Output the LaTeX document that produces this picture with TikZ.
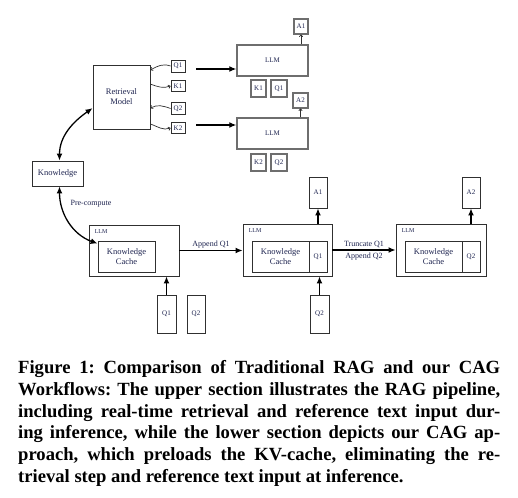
\documentclass[tikz,border=0pt]{standalone}
\usepackage{fontspec}
\setmainfont{Liberation Serif}
\usetikzlibrary{arrows.meta,calc}
\definecolor{txt}{HTML}{1E2450}
\definecolor{ln}{HTML}{303030}
\definecolor{gl}{HTML}{6E6E6E}
\frenchspacing
\begin{document}
\begin{tikzpicture}[x=1pt,y=1pt,
 box/.style={draw=ln, line width=0.9pt, inner sep=0pt, text=txt, align=center},
 gbox/.style={draw=gl, line width=1.4pt, inner sep=0pt, text=txt, align=center},
 lab/.style={font=\fontsize{8.5}{10}\selectfont},
 sm/.style={font=\fontsize{7}{8}\selectfont},
 cornerlab/.style={font=\fontsize{6}{7}\selectfont, text=txt, inner sep=0pt},
 elab/.style={font=\fontsize{8}{9}\selectfont, text=txt, inner sep=2pt},
 bigarr/.style={-{Latex[length=7pt,width=6pt]}, line width=1.3pt, draw=black},
 dblarr/.style={{Latex[length=7pt,width=6pt]}-{Latex[length=7pt,width=6pt]}, line width=1.3pt, draw=black},
 thinarr/.style={-{To[length=2.5pt,width=4pt]}, line width=0.7pt, draw=ln},
 captext/.style={anchor=base west, inner sep=0pt, font=\fontsize{18.6}{21}\selectfont\bfseries},
]
\useasboundingbox (0,0) rectangle (518,-497);
\fill[white] (0,0) rectangle (518,-497);

% ---------- upper (RAG) ----------
\node[box, lab, minimum width=57pt, minimum height=64pt] (RM) at (121.5,-97) {Retrieval\\Model};
\node[box, sm, minimum width=14pt, minimum height=12pt] (Q1a) at (178,-66) {Q1};
\node[box, sm, minimum width=14pt, minimum height=11pt] (K1a) at (178,-86) {K1};
\node[box, sm, minimum width=14pt, minimum height=12pt] (Q2a) at (178,-108.5) {Q2};
\node[box, sm, minimum width=14pt, minimum height=11pt] (K2a) at (178,-128) {K2};

\node[gbox, sm, minimum width=71pt, minimum height=31pt] (LLM1) at (272.5,-60.5) {LLM};
\node[gbox, sm, minimum width=14pt, minimum height=15pt, line width=1.1pt] (A1a) at (301,-26.5) {A1};
\node[gbox, sm, minimum width=15pt, minimum height=17pt, line width=1.1pt] (K1b) at (258.5,-88.5) {K1};
\node[gbox, sm, minimum width=16pt, minimum height=17pt, line width=1.1pt] (Q1b) at (279,-88.5) {Q1};

\node[gbox, sm, minimum width=71pt, minimum height=31pt] (LLM2) at (272.5,-133.5) {LLM};
\node[gbox, sm, minimum width=15pt, minimum height=15pt, line width=1.1pt] (A2a) at (300.5,-100.5) {A2};
\node[gbox, sm, minimum width=15pt, minimum height=17pt, line width=1.1pt] (K2b) at (258.5,-162.5) {K2};
\node[gbox, sm, minimum width=16pt, minimum height=17pt, line width=1.1pt] (Q2b) at (279,-162.5) {Q2};

\node[box, lab, minimum width=51pt, minimum height=25pt] (Know) at (57.5,-173.5) {Knowledge};

\draw[thinarr] (Q1a.west) to[out=160,in=30] (RM.43);
\draw[thinarr] (RM.24) to[out=-20,in=200] (K1a.west);
\draw[thinarr] (Q2a.west) to[out=160,in=30] (RM.-21);
\draw[thinarr] (RM.-43) to[out=-20,in=200] (K2a.west);

\coordinate (s1) at (196,-69);
\coordinate (s2) at (196,-125);
\draw[bigarr] (s1) -- (s1 -| LLM1.west);
\draw[bigarr] (s2) -- (s2 -| LLM2.west);

\draw[thinarr] (A1a.south |- LLM1.north) -- (A1a.south);
\draw[thinarr] (A2a.south |- LLM2.north) -- (A2a.south);

\draw[dblarr] ([xshift=2pt]Know.north) to[out=90,in=215] (RM.201);

% ---------- lower (CAG) ----------
\node[box, minimum width=90pt, minimum height=51pt] (LLM3) at (134,-250.5) {};
\node[cornerlab, anchor=north west] (L3) at ([shift={(6pt,-5pt)}]LLM3.north west) {LLM};
\node[box, lab, minimum width=57pt, minimum height=31pt] (KC3) at (126.5,-256.5) {Knowledge\\Cache};
\node[box, sm, minimum width=19pt, minimum height=38pt] (Q1c) at (166.5,-314) {Q1};
\node[box, sm, minimum width=18pt, minimum height=38pt] (Q2c) at (196,-314) {Q2};

\node[box, minimum width=89pt, minimum height=52pt] (LLM4) at (287.5,-250) {};
\node[cornerlab, anchor=north west] (L4) at ([shift={(6pt,-5pt)}]LLM4.north west) {LLM};
\node[box, lab, minimum width=57pt, minimum height=31pt] (KC4) at (280.5,-256.5) {Knowledge\\Cache};
\node[box, sm, minimum width=18pt, minimum height=31pt] (Q1d) at (318,-256.5) {Q1};
\node[box, sm, minimum width=18pt, minimum height=31pt] (A1b) at (318,-192.5) {A1};
\node[box, sm, minimum width=19pt, minimum height=38pt] (Q2d) at (319.5,-314) {Q2};

\node[box, minimum width=90pt, minimum height=52pt] (LLM5) at (441,-250) {};
\node[cornerlab, anchor=north west] (L5) at ([shift={(6pt,-5pt)}]LLM5.north west) {LLM};
\node[box, lab, minimum width=57pt, minimum height=31pt] (KC5) at (433.5,-256.5) {Knowledge\\Cache};
\node[box, sm, minimum width=18pt, minimum height=31pt] (Q2e) at (471,-256.5) {Q2};
\node[box, sm, minimum width=18pt, minimum height=31pt] (A2b) at (471,-192.5) {A2};

\draw[dblarr] ([xshift=2pt]Know.south) to[out=-90,in=160] (KC3.156);
\node[elab] (pc) at (91,-204) {Pre-compute};

\draw[bigarr] (LLM3.east) -- node[elab, above] (ap1) {Append Q1} (LLM3.east -| LLM4.west);
\draw[bigarr] (LLM4.east) -- node[elab, above] (tr1) {Truncate Q1} node[elab, below] (ap2) {Append Q2} (LLM4.east -| LLM5.west);

\draw[bigarr] (Q1c.north) -- (Q1c.north |- LLM3.south);
\draw[bigarr] (Q2d.north) -- (Q2d.north |- LLM4.south);
\draw[bigarr] (A1b.south |- LLM4.north) -- (A1b.south);
\draw[bigarr] (A2b.south |- LLM5.north) -- (A2b.south);

% ---------- caption ----------
\node[captext] (c1) at (18,-373) {\makebox[482pt][s]{Figure 1: Comparison of Traditional RAG and our CAG}};
\node[captext] (c2) at (18,-395) {\makebox[482pt][s]{Workflows: The upper section illustrates the RAG pipeline,}};
\node[captext] (c3) at (18,-417) {\makebox[482pt][s]{including real-time retrieval and reference text input dur-}};
\node[captext] (c4) at (18,-438.5) {\makebox[482pt][s]{ing inference, while the lower section depicts our CAG ap-}};
\node[captext] (c5) at (18,-460) {\makebox[482pt][s]{proach, which preloads the KV-cache, eliminating the re-}};
\node[captext] (c6) at (18,-482) {trieval step and reference text input at inference.};
\end{tikzpicture}
\end{document}
